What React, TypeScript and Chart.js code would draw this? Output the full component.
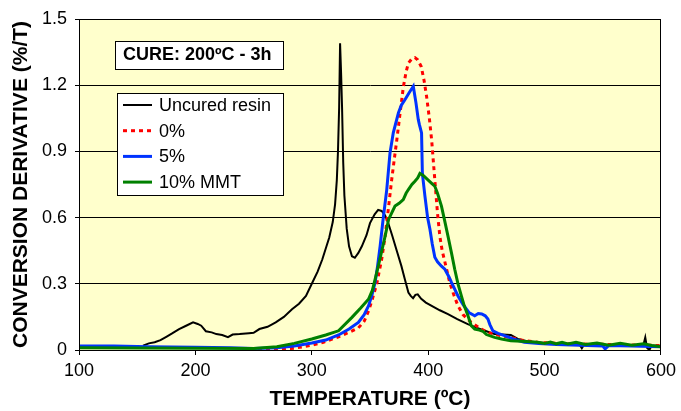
import React, { useEffect, useRef } from "react";
import { Chart, registerables } from "chart.js";

Chart.register(...registerables);

const FONT = '"Liberation Sans", Arial, Helvetica, sans-serif';

// ---- data ----
const xTickValues = [100, 200, 300, 400, 500, 600];
const yTickValues = [0, 0.3, 0.6, 0.9, 1.2, 1.5];
const yTickLabels = ["0", "0.3", "0.6", "0.9", "1.2", "1.5"];
const seriesLabels = ["Uncured resin", "0%", "5%", "10% MMT"];
const xTitle = "TEMPERATURE (ºC)";
const yTitle = "CONVERSION DERIVATIVE (%/T)";
const noteText = "CURE: 200ºC - 3h";

const uncuredT = [155, 160, 165, 170, 175, 180, 186, 192, 198, 202, 205, 209, 214, 218, 223, 228, 232, 238, 246, 250, 255, 262, 269, 276, 283, 289, 295, 300, 305, 309, 312, 315, 318, 320, 321.5, 322.5, 323.5, 324.3, 325.2, 326, 327, 328, 330, 332, 334.5, 337, 340, 343, 347, 350, 354, 357, 360, 363, 366, 369, 373, 377, 380, 383, 385, 387, 389, 391, 394, 398, 403, 410, 417, 425, 434, 442, 450, 457, 464, 471, 477, 485, 494, 505, 520, 530, 532, 534, 550, 565, 580, 585, 586.5, 588, 590, 592, 600];
const uncuredY = [0.02, 0.03, 0.035, 0.045, 0.06, 0.075, 0.095, 0.11, 0.125, 0.118, 0.11, 0.085, 0.08, 0.072, 0.068, 0.058, 0.07, 0.072, 0.076, 0.078, 0.095, 0.105, 0.125, 0.15, 0.185, 0.21, 0.245, 0.3, 0.355, 0.41, 0.46, 0.51, 0.58, 0.66, 0.77, 0.9, 1.1, 1.39, 1.25, 1.1, 0.85, 0.7, 0.55, 0.47, 0.425, 0.418, 0.44, 0.47, 0.52, 0.575, 0.615, 0.635, 0.63, 0.61, 0.57, 0.52, 0.45, 0.38, 0.32, 0.26, 0.245, 0.235, 0.25, 0.252, 0.232, 0.215, 0.2, 0.18, 0.163, 0.14, 0.117, 0.1, 0.085, 0.072, 0.07, 0.068, 0.05, 0.04, 0.035, 0.03, 0.028, 0.025, 0.008, 0.025, 0.022, 0.022, 0.02, 0.025, 0.057, 0.01, 0.0, 0.02, 0.018];

const zeroT = [240, 255, 270, 285, 300, 310, 323, 332, 340, 345, 349, 352, 355.8, 360, 363, 366, 368.6, 371, 373, 376, 378.6, 381, 383, 386, 388.6, 391, 394, 396.5, 398.6, 401, 403, 405.7, 408, 410, 412, 414.3, 418.5, 422, 425.6, 430, 437, 444, 451, 460, 471, 480, 494, 510, 530, 560, 600];
const zeroY = [0.0, 0.0, 0.002, 0.008, 0.022, 0.035, 0.06, 0.08, 0.1, 0.13, 0.18, 0.23, 0.3, 0.41, 0.516, 0.65, 0.77, 0.87, 0.95, 1.08, 1.19, 1.26, 1.3, 1.32, 1.325, 1.315, 1.285, 1.22, 1.15, 1.05, 0.95, 0.77, 0.62, 0.516, 0.45, 0.4, 0.306, 0.25, 0.2, 0.16, 0.125, 0.1, 0.08, 0.068, 0.057, 0.045, 0.035, 0.03, 0.027, 0.025, 0.02];

const fiveT = [100, 130, 160, 200, 230, 250, 270, 285, 300, 312, 323, 332, 340, 345, 348.7, 351.5, 354.4, 356.5, 358.7, 361, 364.4, 367.2, 370, 374.4, 377, 380, 383.5, 387.2, 389.5, 391.5, 392.5, 394.3, 395, 397.2, 399.5, 401.5, 403.5, 405.7, 408, 411.4, 414.3, 418, 420, 425.6, 430, 435, 440, 443, 446, 449, 451.3, 453, 455.6, 460, 465.6, 473, 482.6, 495, 510, 530, 550, 552, 555, 575, 600];
const fiveY = [0.018, 0.018, 0.015, 0.013, 0.01, 0.007, 0.01, 0.018, 0.032, 0.045, 0.068, 0.095, 0.125, 0.16, 0.2, 0.245, 0.306, 0.38, 0.47, 0.58, 0.727, 0.893, 0.984, 1.074, 1.11, 1.134, 1.165, 1.195, 1.12, 1.044, 1.02, 0.984, 0.8, 0.697, 0.6, 0.547, 0.48, 0.42, 0.4, 0.38, 0.366, 0.33, 0.306, 0.245, 0.205, 0.17, 0.155, 0.165, 0.163, 0.155, 0.14, 0.115, 0.087, 0.075, 0.065, 0.05, 0.035, 0.03, 0.025, 0.022, 0.018, 0.005, 0.02, 0.018, 0.015];

const tenT = [100, 150, 200, 250, 270, 285, 300, 312, 323, 334.5, 342, 348.7, 352, 354.4, 358, 363, 366, 369, 371.5, 375, 378.6, 381, 383, 386, 388.6, 391, 392.9, 396, 400, 403, 405.7, 408, 411.4, 414, 417, 420, 422.8, 425.6, 428.5, 431, 434.2, 437, 440, 444, 447, 450, 457, 463, 471, 480, 494, 500, 505, 510, 515, 520, 527, 535, 545, 555, 565, 575, 585, 592, 600];
const tenY = [0.01, 0.009, 0.008, 0.007, 0.015, 0.03, 0.05, 0.068, 0.087, 0.148, 0.19, 0.23, 0.27, 0.32, 0.4, 0.516, 0.592, 0.625, 0.652, 0.665, 0.682, 0.71, 0.727, 0.75, 0.765, 0.78, 0.8, 0.79, 0.77, 0.755, 0.742, 0.71, 0.652, 0.59, 0.516, 0.44, 0.366, 0.3, 0.245, 0.2, 0.155, 0.11, 0.095, 0.09, 0.085, 0.07, 0.057, 0.05, 0.042, 0.04, 0.035, 0.03, 0.036, 0.028, 0.035, 0.027, 0.035, 0.025, 0.032, 0.022, 0.03, 0.022, 0.028, 0.02, 0.015];

const seriesColors = ["#000000", "#FF0000", "#0033FF", "#008000"];
const seriesWidths = [2, 3, 3, 3];
const seriesDashes: number[][] = [[], [4, 4], [], []];

function toPoints(xs: number[], ys: number[]) {
  return xs.map((x, i) => ({ x, y: ys[i] }));
}

const overlayPlugin = {
  id: "overlay",
  beforeDraw(chart: any) {
    const { ctx, chartArea: a } = chart;
    ctx.save();
    ctx.fillStyle = "#FFFFCC";
    ctx.fillRect(a.left, a.top, a.right - a.left, a.bottom - a.top);
    ctx.restore();
  },
  afterDraw(chart: any) {
    const { ctx, chartArea: a } = chart;
    ctx.save();
    // plot border
    ctx.strokeStyle = "#000";
    ctx.lineWidth = 1;
    ctx.strokeRect(Math.round(a.left) + 0.5, Math.round(a.top) + 0.5, Math.round(a.right - a.left) - 1, Math.round(a.bottom - a.top));

    // cure note box
    const nx = a.left + 36, ny = a.top + 22;
    ctx.fillStyle = "#fff";
    ctx.fillRect(nx, ny, 168, 28);
    ctx.strokeRect(Math.round(nx) + 0.5, Math.round(ny) + 0.5, 168, 28);
    ctx.fillStyle = "#000";
    ctx.font = `bold 18px ${FONT}`;
    ctx.textBaseline = "middle";
    ctx.textAlign = "left";
    ctx.fillText(noteText, nx + 8, ny + 14.5);

    // legend box
    const lx = a.left + 38, ly = a.top + 74;
    const lw = 166, lh = 102;
    ctx.fillStyle = "#fff";
    ctx.fillRect(lx, ly, lw, lh);
    ctx.strokeStyle = "#000";
    ctx.lineWidth = 1;
    ctx.strokeRect(Math.round(lx) + 0.5, Math.round(ly) + 0.5, lw, lh);
    ctx.font = `18px ${FONT}`;
    seriesLabels.forEach((label, i) => {
      const cy = ly + 12 + i * 25.7;
      ctx.beginPath();
      ctx.strokeStyle = seriesColors[i];
      ctx.lineWidth = seriesWidths[i];
      ctx.setLineDash(seriesDashes[i]);
      ctx.moveTo(lx + 6, cy);
      ctx.lineTo(lx + 35, cy);
      ctx.stroke();
      ctx.setLineDash([]);
      ctx.fillStyle = "#000";
      ctx.fillText(label, lx + 42, cy + 1);
    });
    ctx.restore();
  },
};

export default function App() {
  const canvasRef = useRef<HTMLCanvasElement | null>(null);

  useEffect(() => {
    document.body.style.margin = "0";
    const canvas = canvasRef.current;
    if (!canvas) return;
    const pts = [
      toPoints(uncuredT, uncuredY),
      toPoints(zeroT, zeroY),
      toPoints(fiveT, fiveY),
      toPoints(tenT, tenY),
    ];
    const chart = new Chart(canvas, {
      type: "line",
      data: {
        datasets: pts.map((data, i) => ({
          label: seriesLabels[i],
          data,
          borderColor: seriesColors[i],
          backgroundColor: seriesColors[i],
          borderWidth: seriesWidths[i],
          borderDash: seriesDashes[i],
          pointRadius: 0,
          tension: 0,
          fill: false,
          order: 4 - i,
        })),
      },
      options: {
        animation: false,
        responsive: false,
        devicePixelRatio: 1,
        parsing: true,
        layout: { padding: { top: 19, right: 17, left: 0, bottom: 0 } },
        plugins: { legend: { display: false }, tooltip: { enabled: false } },
        scales: {
          x: {
            type: "linear",
            min: 100,
            max: 600,
            afterBuildTicks: (s: any) => {
              s.ticks = xTickValues.map((v) => ({ value: v }));
            },
            grid: { drawOnChartArea: false, drawTicks: true, tickLength: 5, color: "#000" },
            border: { display: true, color: "#000", width: 1 },
            ticks: {
              font: { family: FONT, size: 18 },
              color: "#000",
              padding: 5,
              maxRotation: 0,
              autoSkip: false,
              callback: (v: any) => String(v),
            },
            title: {
              display: true,
              text: xTitle,
              color: "#000",
              font: { family: FONT, size: 21, weight: "bold", lineHeight: 1 },
              padding: { top: 0, bottom: 1 },
            },
            afterFit: (s: any) => {
              s.height = 61;
            },
          },
          y: {
            type: "linear",
            min: 0,
            max: 1.5,
            afterBuildTicks: (s: any) => {
              s.ticks = yTickValues.map((v) => ({ value: v }));
            },
            grid: { drawOnChartArea: true, drawTicks: true, tickLength: 4, color: "#000", lineWidth: 1 },
            border: { display: true, color: "#000", width: 1 },
            ticks: {
              font: { family: FONT, size: 18 },
              color: "#000",
              padding: 8,
              autoSkip: false,
              callback: (v: any) => {
                const idx = yTickValues.findIndex((t) => Math.abs(t - v) < 1e-9);
                return idx >= 0 ? yTickLabels[idx] : "";
              },
            },
            title: {
              display: true,
              text: yTitle,
              color: "#000",
              font: { family: FONT, size: 21, weight: "bold", lineHeight: 1 },
              padding: { top: 11, bottom: 0 },
            },
            afterFit: (s: any) => {
              s.width = 79;
            },
          },
        },
      },
      plugins: [overlayPlugin],
    } as any);
    return () => chart.destroy();
  }, []);

  return (
    <div style={{ width: 681, height: 411, background: "#fff" }}>
      <canvas ref={canvasRef} width={681} height={411} style={{ display: "block" }} />
    </div>
  );
}
